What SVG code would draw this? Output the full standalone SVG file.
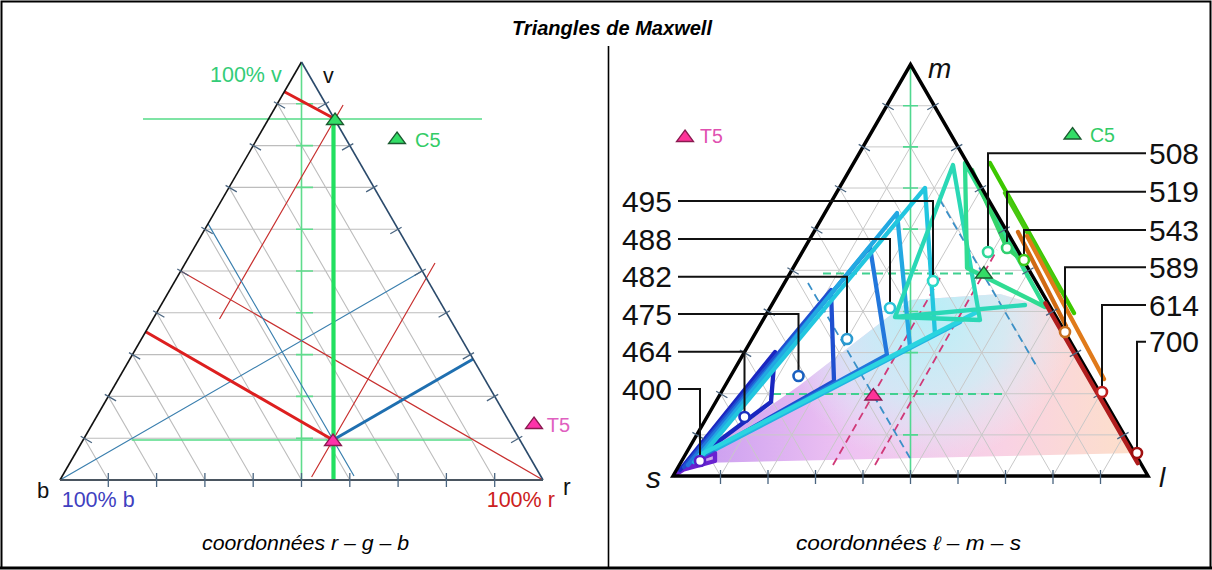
<svg xmlns="http://www.w3.org/2000/svg" width="1212" height="570" viewBox="0 0 1212 570">
<style>
.grid{stroke:#bdbdbd;stroke-width:1.1;fill:none}
.gridR{stroke:#c8c8c8;stroke-width:1;fill:none}
.tick{stroke:#4a6580;stroke-width:1.3;fill:none}
.lab{font-family:"Liberation Sans",Arial,sans-serif}
.it{font-family:"Liberation Sans",Arial,sans-serif;font-style:italic}
.num{font-family:"Liberation Sans",Arial,sans-serif;font-size:30px;fill:#111}
.lead{stroke:#111;stroke-width:2;fill:none}
.loc{fill:none;stroke-width:4.3;stroke-linejoin:round;stroke-linecap:round}
.dot{fill:#fff;stroke-width:2.6}
.dash{fill:none;stroke-width:1.8;stroke-dasharray:8 5}
</style>
<defs>
<path id="tri" d="M0,-6 L8.5,5.5 L-8.5,5.5 Z"/>
<linearGradient id="fillH" x1="690" y1="0" x2="1140" y2="0" gradientUnits="userSpaceOnUse">
<stop offset="0" stop-color="#c89cf0"/>
<stop offset="0.35" stop-color="#eec2f2"/>
<stop offset="0.7" stop-color="#f9d2e4"/>
<stop offset="1" stop-color="#fde0c8"/>
</linearGradient>
<radialGradient id="cyanR" cx="925" cy="315" r="150" gradientUnits="userSpaceOnUse">
<stop offset="0" stop-color="#b5eff7" stop-opacity="1"/>
<stop offset="0.55" stop-color="#c8f3f8" stop-opacity="0.7"/>
<stop offset="1" stop-color="#e0f8fb" stop-opacity="0"/>
</radialGradient>
</defs>
<rect width="1212" height="570" fill="#fff"/>

<g id="frame">
<rect x="1.5" y="1.5" width="1209" height="566.5" fill="none" stroke="#000" stroke-width="2"/>
<line x1="0" y1="568" x2="1212" y2="568" stroke="#000" stroke-width="3"/>
<line x1="608.5" y1="46" x2="608.5" y2="568" stroke="#000" stroke-width="1.6"/>
<text x="512" y="35" class="it" font-weight="bold" font-size="20" textLength="200" lengthAdjust="spacingAndGlyphs" fill="#000">Triangles de Maxwell</text>
<text x="202" y="550" class="it" font-size="19.5" textLength="207" lengthAdjust="spacingAndGlyphs" fill="#000">coordonnées r – g – b</text>
<text x="796" y="550" class="it" font-size="19.5" textLength="225" lengthAdjust="spacingAndGlyphs" fill="#000">coordonnées ℓ – m – s</text>
</g>

<!-- LEFT TRIANGLE -->
<g id="left-grid">
<path class="grid" d="M84.15,438.2H518.85 M108.3,396.4H494.7 M132.45,354.6H470.55 M156.6,312.8H446.4 M180.75,271H422.25 M204.9,229.2H398.1 M229.05,187.4H373.95 M253.2,145.6H349.8 M277.35,103.8H325.65
M84.15,438.2L108.3,480 M108.3,396.4L156.6,480 M132.45,354.6L204.9,480 M156.6,312.8L253.2,480 M180.75,271L301.5,480 M204.9,229.2L349.8,480 M229.05,187.4L398.1,480 M253.2,145.6L446.4,480 M277.35,103.8L494.7,480"/>
</g>

<g id="left-connectors">
<path d="M301.5,62V480" stroke="#5fdc8c" stroke-width="1.6" fill="none"/>
<path d="M296,438.2H313 M296,396.4H313 M296,354.6H313 M296,312.8H313 M296,271H313 M296,229.2H313 M296,187.4H313 M296,145.6H313 M296,103.8H313" stroke="#5fdc8c" stroke-width="1.6" fill="none"/>
<path d="M143,119H482 M131.7,440H471.7" stroke="#55dc88" stroke-width="1.6" fill="none"/>
<path d="M180.75,271L543,480 M219.5,319L343.1,105 M311.6,477L435,263" stroke="#c8302f" stroke-width="1.2" fill="none"/>
<path d="M60,480L422.25,271 M208,223.6L354,476" stroke="#3a7fae" stroke-width="1.2" fill="none"/>
<path d="M333.5,121V480" stroke="#22e060" stroke-width="4.2" fill="none"/>
<path d="M284.4,91.7L335,119 M145.7,331.7L333,440" stroke="#dd1f1f" stroke-width="3" fill="none"/>
<path d="M333,440L473.2,359" stroke="#1f6fb0" stroke-width="3" fill="none"/>
</g>

<g id="left-frame">
<path d="M60,480L301.5,62" stroke="#111" stroke-width="1.6" fill="none"/>
<path d="M301.5,62L543,480" stroke="#2b4a6b" stroke-width="1.6" fill="none"/>
<path d="M60,480H543" stroke="#4a5560" stroke-width="2" fill="none"/>
<path class="tick" d="M80.7,436.2L91.9,442.7 M104.8,394.4L116.1,400.9 M129,352.6L140.2,359.1 M153.1,310.8L164.4,317.3 M177.3,269L188.5,275.5 M201.4,227.2L212.7,233.7 M225.6,185.4L236.8,191.9 M249.7,143.6L261,150.1 M273.9,101.8L285.1,108.3
M522.3,436.2L511.05,442.7 M498.2,394.4L486.9,400.9 M474,352.6L462.75,359.1 M449.9,310.8L438.6,317.3 M425.7,269L414.45,275.5 M401.6,227.2L390.3,233.7 M377.4,185.4L366.15,191.9 M353.3,143.6L342,150.1 M329.1,101.8L317.85,108.3
M108.3,473V487 M156.6,473V487 M204.9,473V487 M253.2,473V487 M301.5,473V487 M349.8,473V487 M398.1,473V487 M446.4,473V487 M494.7,473V487"/>
</g>

<g id="left-C5">
<use href="#tri" x="335" y="119" fill="#33dd66" stroke="#1b5a30" stroke-width="1.3"/>
<use href="#tri" x="397" y="138" fill="#33dd66" stroke="#1b5a30" stroke-width="1.3"/>
<text x="415" y="146.7" class="lab" font-size="20" fill="#33cc66">C5</text>
</g>
<g id="left-T5">
<use href="#tri" x="333" y="440" fill="#ff33aa" stroke="#8a1a50" stroke-width="1.3"/>
<use href="#tri" x="534" y="423" fill="#ff33aa" stroke="#8a1a50" stroke-width="1.3"/>
<text x="546.7" y="431.7" class="lab" font-size="20" fill="#e060c0">T5</text>
</g>
<g id="left-labels">
<text x="210" y="81.7" class="lab" font-size="21.5" fill="#33cc77">100% v</text>
<text x="323" y="83" class="lab" font-size="21.5" fill="#111">v</text>
<text x="37" y="498" class="lab" font-size="22" fill="#111">b</text>
<text x="61.7" y="507" class="lab" font-size="21.5" fill="#4040c0">100% b</text>
<text x="486.7" y="506.5" class="lab" font-size="21.5" fill="#cc2020">100% r</text>
<text x="563" y="495" class="lab" font-size="23" fill="#111">r</text>
</g>

<!-- RIGHT TRIANGLE -->
<g id="right-fill">
<path d="M682,468 L800,385 L910,300 L1000,294 L1045,307 L1137,453 L700,463 Z" fill="url(#fillH)"/>
<path d="M682,468 L800,385 L910,300 L1000,294 L1045,307 L1137,453 L700,463 Z" fill="url(#cyanR)"/>
</g>

<g id="right-grid">
<path class="gridR" d="M696.75,434.86H1124.25 M720.5,393.72H1100.5 M744.25,352.58H1076.75 M768,311.44H1053 M791.75,270.3H1029.25 M815.5,229.16H1005.5 M839.25,188.02H981.75 M863,146.88H958 M886.75,105.74H934.25
M1124.25,434.86L1100.5,476 M1100.5,393.72L1053,476 M1076.75,352.58L1005.5,476 M1053,311.44L958,476 M1029.25,270.3L910.5,476 M1005.5,229.16L863,476 M981.75,188.02L815.5,476 M958,146.88L768,476 M934.25,105.74L720.5,476
M696.75,434.86L720.5,476 M720.5,393.72L768,476 M744.25,352.58L815.5,476 M768,311.44L863,476 M791.75,270.3L910.5,476 M815.5,229.16L958,476 M839.25,188.02L1005.5,476 M863,146.88L1053,476 M886.75,105.74L1100.5,476"/>
</g>

<g id="right-guides">
<path d="M910.5,66V476" stroke="#50d890" stroke-width="1.6" fill="none"/>
<path d="M903,434.86H918 M903,393.72H918 M903,352.58H918 M903,311.44H918 M903,270.3H918 M903,229.16H918 M903,188.02H918 M903,146.88H918 M903,105.74H918" stroke="#50d890" stroke-width="1.6" fill="none"/>
<path class="dash" stroke="#40d090" d="M823,273.5H1013 M773,394H1005"/>
<path class="dash" stroke="#d03a78" d="M833,465L940,278 M875,465L997,250"/>
<path class="dash" stroke="#3a90c8" d="M808,283L910,458 M940,200L1037,367"/>
</g>

<g id="locus">
<path class="loc" stroke="#6a22d0" d="M675,475 L702,458 L715,453 L715,461 L682,470"/>
<path class="loc" stroke="#1a26c0" d="M680,470 L775,352 L771,402 L688,464"/>
<path class="loc" stroke="#1f4fd0" d="M684,467 L831,290 L834,381 L692,462"/>
<path class="loc" stroke="#2277dc" d="M688,465 L870,247 L887,355 L700,457"/>
<path class="loc" stroke="#22a8e2" d="M694,462 L897,213 L910,347"/>
<path class="loc" stroke="#22c6df" d="M700,458 L925,188 L935,334"/>
<path class="loc" stroke="#22b4e2" d="M716,449 L960,322"/>
<path class="loc" stroke="#2ad4e0" stroke-width="4.6" d="M700,455 L977,312"/>
<path class="loc" stroke="#2ad8b6" d="M895,317 L953,165 L980,320 Z M895,317 L1025,305"/>
<path class="loc" stroke="#30dc92" d="M965,163 L967,268 L1045,307 Z"/>
<path class="loc" stroke="#34d46a" d="M972,170 L1007,248 L1024,262"/>
<path class="loc" stroke="#3cc800" stroke-width="4.6" d="M990,163 L1074,313"/>
<path class="loc" stroke="#48c810" d="M1005,193 L1060,290"/>
<path class="loc" stroke="#d06a14" d="M1018,232 L1066,326"/>
<path class="loc" stroke="#e07a1a" d="M1027,236 L1104,379"/>
</g>

<g id="right-frame">
<path d="M673,476 L910.5,64.6 L1148,476 Z" fill="none" stroke="#000" stroke-width="3.5" stroke-linejoin="miter"/>
<path class="loc" stroke="#b01e1e" stroke-width="4" d="M1045.3,303.2 L1137.7,463.2"/>
<path class="tick" d="M692.4,432.4L703.7,438.9 M716.2,391.2L727.4,397.7 M739.9,350.1L751.2,356.6 M763.7,308.9L774.9,315.4 M787.4,267.8L798.7,274.3 M811.2,226.7L822.4,233.2 M834.9,185.5L846.2,192 M858.7,144.4L869.9,150.9 M882.4,103.2L893.7,109.7
M1128.6,432.4L1117.3,438.9 M1104.8,391.2L1093.6,397.7 M1081.1,350.1L1069.8,356.6 M1057.3,308.9L1046.1,315.4 M1033.6,267.8L1022.3,274.3 M1009.8,226.7L998.6,233.2 M986.1,185.5L974.8,192 M962.3,144.4L951.1,150.9 M938.6,103.2L927.3,109.7
M720.5,470V484 M768,470V484 M815.5,470V484 M863,470V484 M910.5,470V484 M958,470V484 M1005.5,470V484 M1053,470V484 M1100.5,470V484"/>
</g>

<g id="leaders">
<path class="lead" d="M678,201H933V276 M678,239H890V303 M678,276.7H847V334 M678,314H798.5V371 M678,351.7H744.5V412 M678,389H700V456"/>
<path class="lead" d="M1146,153.3H988V247 M1146,191.7H1007V243 M1146,230H1024V255 M1146,267.3H1065V327 M1146,305H1102V387 M1146,341.7H1137V448"/>
</g>

<g id="points">
<circle class="dot" cx="700" cy="461" r="5" stroke="#5a20c8"/>
<circle class="dot" cx="744.5" cy="417" r="5" stroke="#1a2fbf"/>
<circle class="dot" cx="798.5" cy="376" r="5" stroke="#1a60c0"/>
<circle class="dot" cx="847" cy="339" r="5" stroke="#2a9ad0"/>
<circle class="dot" cx="890" cy="308" r="5" stroke="#2ac2d8"/>
<circle class="dot" cx="933" cy="281" r="5" stroke="#2ad8c8"/>
<circle class="dot" cx="988" cy="252" r="5" stroke="#30d89a"/>
<circle class="dot" cx="1007" cy="248" r="5" stroke="#30d070"/>
<circle class="dot" cx="1024" cy="260" r="5" stroke="#40c820"/>
<circle class="dot" cx="1065" cy="332" r="5" stroke="#c87020"/>
<circle class="dot" cx="1102" cy="392" r="5" stroke="#c02020"/>
<circle class="dot" cx="1137" cy="453" r="5" stroke="#a01010"/>
</g>

<g id="right-T5">
<use href="#tri" x="873.3" y="394.5" fill="#ff3399" stroke="#8a1a50" stroke-width="1.3"/>
<use href="#tri" x="685" y="136" fill="#ff3399" stroke="#8a1a50" stroke-width="1.3"/>
<text x="700" y="143" class="lab" font-size="19.5" fill="#e050b0">T5</text>
</g>
<g id="right-C5">
<use href="#tri" x="983.8" y="272.5" fill="#33dd66" stroke="#1b5a30" stroke-width="1.3"/>
<use href="#tri" x="1072.5" y="133.5" fill="#33dd66" stroke="#1b5a30" stroke-width="1.3"/>
<text x="1090" y="141.7" class="lab" font-size="19.5" fill="#33cc66">C5</text>
</g>

<g id="right-labels">
<text x="928" y="78.3" class="it" font-size="28" fill="#111">m</text>
<text x="646" y="488" class="it" font-size="30" fill="#111">s</text>
<text x="1159" y="486.7" class="it" font-size="28" fill="#111">l</text>
<text x="672" y="211.5" class="num" text-anchor="end">495</text>
<text x="672" y="249.5" class="num" text-anchor="end">488</text>
<text x="672" y="287.2" class="num" text-anchor="end">482</text>
<text x="672" y="324.5" class="num" text-anchor="end">475</text>
<text x="672" y="362.2" class="num" text-anchor="end">464</text>
<text x="672" y="399.5" class="num" text-anchor="end">400</text>
<text x="1149" y="163.8" class="num">508</text>
<text x="1149" y="202.2" class="num">519</text>
<text x="1149" y="240.5" class="num">543</text>
<text x="1149" y="277.8" class="num">589</text>
<text x="1149" y="315.5" class="num">614</text>
<text x="1149" y="352.2" class="num">700</text>
</g>
</svg>
